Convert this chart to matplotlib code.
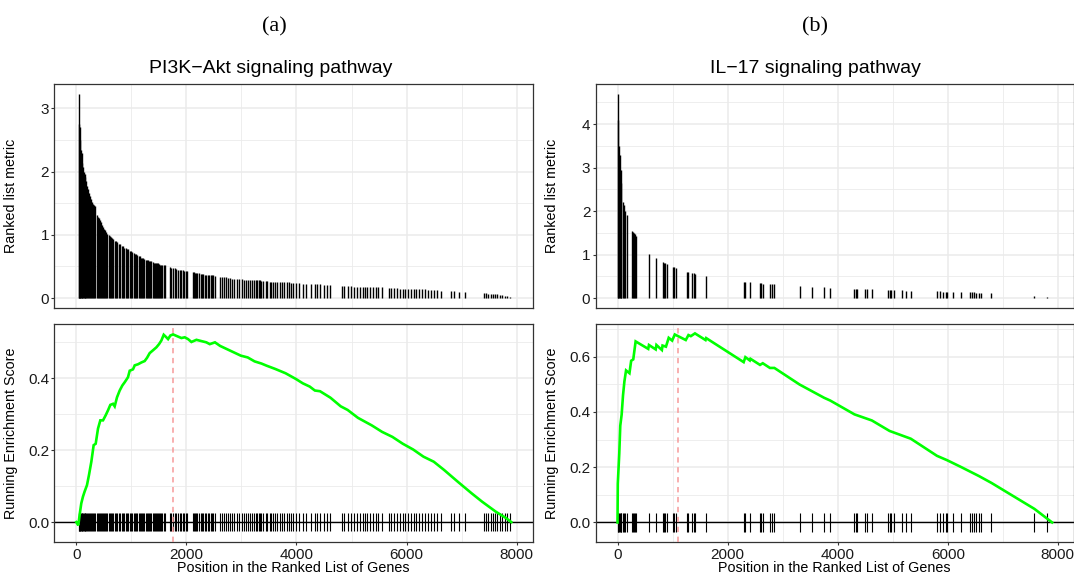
import matplotlib
matplotlib.use("Agg")
import matplotlib.pyplot as plt
from matplotlib.ticker import MultipleLocator, NullFormatter

plt.rcParams['font.family'] = ['Liberation Sans', 'DejaVu Sans']

# === DATA ===
panel_letters = ["(a)", "(b)"]
titles = ["PI3K\u2212Akt signaling pathway", "IL\u221217 signaling pathway"]

# (a) PI3K-Akt: positions of the gene-set hits in the ranked list and their metric
a_hit_pos = [
    40, 52, 64, 76, 88, 100, 112, 125, 138, 150, 163, 180, 195, 210, 228, 245, 262, 280, 300, 318,
    335, 378, 395, 410, 428, 446, 465, 485, 503, 525, 546, 565, 588, 609, 630, 650, 672, 695, 720, 747,
    770, 795, 828, 850, 872, 900, 922, 945, 970, 992, 1016, 1040, 1062, 1085, 1110, 1130, 1152, 1175,
    1195, 1215, 1235, 1258, 1280, 1300, 1320, 1340, 1360, 1385, 1405, 1425, 1445, 1466, 1486, 1505,
    1525, 1545, 1565, 1590, 1611,
    1705, 1722, 1760, 1790, 1815, 1850, 1880, 1905, 1935, 1960, 1990, 2018,
    2112, 2135, 2150, 2175, 2200, 2230, 2260, 2290, 2310, 2335, 2360, 2390, 2410, 2440, 2465, 2490, 2519,
    2613, 2650, 2690, 2720, 2760, 2800, 2830, 2863,
    2926, 2960, 3010, 3050, 3085, 3120, 3160, 3200, 3230, 3260, 3290, 3320, 3345, 3364,
    3400, 3440, 3470, 3510, 3540, 3580, 3610, 3650, 3700, 3740, 3780, 3820, 3860, 3900, 3940, 3990,
    4053, 4110, 4180, 4260, 4330, 4370, 4430, 4500, 4560, 4617,
    4835, 4870, 4929, 4990, 5054, 5100, 5150, 5200, 5240, 5290, 5340, 5390, 5440, 5490, 5555,
    5680, 5720, 5780, 5830, 5880, 5930, 5980, 6030, 6080, 6130, 6180, 6230, 6280, 6330, 6390,
    6440, 6500, 6560, 6620,
    6808, 6870, 6960, 7058,
    7400, 7440, 7480, 7530, 7570, 7610, 7650, 7700, 7740, 7780, 7830, 7872,
]
a_hit_metric = [
    3.22, 2.75, 2.70, 2.50, 2.35, 2.30, 2.13, 2.08, 2.00, 1.97, 1.92, 1.85, 1.78, 1.72, 1.67, 1.62,
    1.57, 1.52, 1.49, 1.47, 1.45, 1.32, 1.29, 1.27, 1.23, 1.20, 1.16, 1.13, 1.10, 1.07, 1.05, 1.02,
    1.00, 0.98, 0.96, 0.95, 0.93, 0.91, 0.90, 0.88, 0.86, 0.85, 0.83, 0.82, 0.80, 0.79, 0.78, 0.77,
    0.75, 0.74, 0.73, 0.72, 0.70, 0.69, 0.68, 0.67, 0.66, 0.64, 0.63, 0.63, 0.62, 0.61, 0.60, 0.60,
    0.59, 0.58, 0.58, 0.57, 0.56, 0.56, 0.55, 0.55, 0.55, 0.54, 0.53, 0.53, 0.52, 0.52, 0.52,
    0.49, 0.48, 0.47, 0.47, 0.46, 0.45, 0.45, 0.44, 0.44, 0.43, 0.43, 0.43,
    0.41, 0.41, 0.40, 0.40, 0.39, 0.39, 0.38, 0.38, 0.38, 0.37, 0.37, 0.37, 0.36, 0.36, 0.36, 0.36, 0.35,
    0.34, 0.34, 0.33, 0.33, 0.32, 0.32, 0.31, 0.31,
    0.30, 0.30, 0.30, 0.29, 0.29, 0.29, 0.29, 0.28, 0.28, 0.28, 0.28, 0.28, 0.28, 0.27,
    0.27, 0.27, 0.27, 0.26, 0.26, 0.26, 0.26, 0.26, 0.25, 0.25, 0.25, 0.25, 0.25, 0.24, 0.24, 0.24,
    0.24, 0.23, 0.23, 0.23, 0.22, 0.22, 0.22, 0.21, 0.21, 0.21,
    0.19, 0.19, 0.19, 0.19, 0.18, 0.18, 0.18, 0.18, 0.18, 0.18, 0.17, 0.17, 0.17, 0.17, 0.17,
    0.16, 0.16, 0.16, 0.16, 0.15, 0.15, 0.15, 0.15, 0.15, 0.15, 0.14, 0.14, 0.14, 0.14, 0.13,
    0.13, 0.13, 0.13, 0.12,
    0.11, 0.11, 0.10, 0.10,
    0.08, 0.08, 0.07, 0.07, 0.06, 0.06, 0.06, 0.05, 0.05, 0.04, 0.03, 0.02,
]
# running enrichment score, read at the turning points of the curve
a_es_pos = [0, 36, 60, 90, 121, 151, 194, 230, 273, 315, 352, 394, 436, 485, 533, 576, 618, 667,
            697, 739, 788, 836, 879, 939, 970, 1030, 1061, 1121, 1182, 1242, 1285, 1333, 1394,
            1454, 1503, 1545, 1588, 1636, 1667, 1709, 1758, 1848, 1909, 1970, 2030, 2091, 2182,
            2362, 2425, 2519, 2613, 2738, 2863, 2988, 3114, 3239, 3364, 3458, 3614, 3802, 3990,
            4115, 4240, 4334, 4428, 4617, 4804, 4929, 5117, 5368, 5555, 5743, 5931, 6119, 6307,
            6494, 6682, 6933, 7183, 7371, 7621, 7809, 7903]
a_es = [0.000, -0.009, 0.020, 0.052, 0.071, 0.085, 0.103, 0.131, 0.168, 0.214, 0.218, 0.260, 0.283,
        0.283, 0.297, 0.311, 0.326, 0.329, 0.322, 0.347, 0.366, 0.380, 0.389, 0.403, 0.421, 0.425,
        0.436, 0.439, 0.444, 0.448, 0.457, 0.470, 0.478, 0.486, 0.495, 0.505, 0.521, 0.514, 0.509,
        0.519, 0.522, 0.516, 0.512, 0.514, 0.509, 0.501, 0.507, 0.500, 0.495, 0.500, 0.490, 0.481,
        0.472, 0.463, 0.458, 0.447, 0.441, 0.435, 0.426, 0.414, 0.398, 0.386, 0.377, 0.366, 0.364,
        0.346, 0.322, 0.312, 0.290, 0.269, 0.251, 0.237, 0.218, 0.202, 0.182, 0.168, 0.145, 0.112,
        0.080, 0.057, 0.029, 0.011, 0.000]
a_peak = 1750

# (b) IL-17
b_hit_pos = [1, 8, 26, 44, 56, 69, 100, 118, 143, 174, 261, 280, 298, 323, 335, 564, 700, 818, 843,
             868, 893, 1010, 1035, 1066, 1264, 1289, 1357, 1382, 1407, 1605, 2298, 2323, 2416, 2589,
             2614, 2639, 2769, 2800, 2850, 3308, 3531, 3754, 3865, 4305, 4330, 4354, 4491, 4534,
             4621, 4918, 4943, 4974, 5030, 5160, 5247, 5328, 5804, 5860, 5921, 5971, 5990, 6095,
             6237, 6404, 6441, 6479, 6522, 6565, 6609, 6794, 7575, 7804]
b_hit_metric = [4.68, 4.10, 3.50, 3.30, 2.95, 2.65, 2.20, 2.15, 2.00, 1.90, 1.55, 1.52, 1.50, 1.47,
                1.43, 1.02, 0.92, 0.82, 0.81, 0.80, 0.79, 0.72, 0.71, 0.69, 0.61, 0.60, 0.58, 0.57,
                0.56, 0.51, 0.38, 0.37, 0.36, 0.35, 0.34, 0.33, 0.33, 0.32, 0.32, 0.28, 0.26, 0.25,
                0.24, 0.21, 0.21, 0.21, 0.20, 0.20, 0.20, 0.19, 0.19, 0.18, 0.18, 0.18, 0.17, 0.17,
                0.16, 0.16, 0.15, 0.15, 0.15, 0.14, 0.14, 0.13, 0.13, 0.13, 0.12, 0.12, 0.12, 0.11,
                0.05, 0.03]
b_es_pos = [0, 5, 32, 50, 75, 100, 125, 155, 217, 248, 286, 329, 558, 571, 694, 707, 806, 818, 880,
            930, 992, 1041, 1240, 1289, 1332, 1407, 1599, 1611, 2292, 2323, 2404, 2416, 2589, 2639,
            2769, 2850, 3308, 3531, 3754, 3865, 4305, 4621, 4943, 5328, 5804, 5990, 6237, 6565,
            6794, 7575, 7804, 7896]
b_es = [0.000, 0.140, 0.250, 0.350, 0.390, 0.460, 0.510, 0.550, 0.540, 0.585, 0.590, 0.655, 0.628,
        0.642, 0.626, 0.642, 0.624, 0.640, 0.636, 0.668, 0.658, 0.680, 0.660, 0.678, 0.674, 0.684,
        0.660, 0.667, 0.580, 0.598, 0.586, 0.592, 0.570, 0.576, 0.559, 0.559, 0.499, 0.475, 0.451,
        0.441, 0.391, 0.369, 0.331, 0.303, 0.241, 0.225, 0.201, 0.168, 0.143, 0.049, 0.014, 0.000]
b_peak = 1090

x_ticks = [0, 2000, 4000, 6000, 8000]

# === LAYOUT (pixels of the 1074x575 reference) ===
W, H = 1074, 575
fig = plt.figure(figsize=(W / 100, H / 100), dpi=100)
fig.patch.set_facecolor("white")

GRID = "#EBEBEB"
BORDER = "#333333"


def box(l, t, r, b):
    return [l / W, 1 - b / H, (r - l) / W, (b - t) / H]


def estilo(ax, ylim, ymaj, show_x):
    ax.set_xlim(-400, 8290)
    ax.set_ylim(*ylim)
    ax.set_xticks(x_ticks)
    ax.xaxis.set_minor_locator(MultipleLocator(1000))
    ax.yaxis.set_major_locator(MultipleLocator(ymaj))
    ax.yaxis.set_minor_locator(MultipleLocator(ymaj / 2))
    ax.grid(which="major", color=GRID, lw=1.1)
    ax.grid(which="minor", color=GRID, lw=0.6)
    ax.set_axisbelow(True)
    for s in ax.spines.values():
        s.set_color(BORDER)
        s.set_linewidth(0.9)
    ax.tick_params(which="minor", length=0)
    ax.tick_params(axis="y", which="major", length=2.2, width=0.8, color=BORDER,
                   labelsize=11, pad=1.5, labelcolor="#1A1A1A")
    if show_x:
        ax.tick_params(axis="x", which="major", length=2.2, width=0.8, color=BORDER,
                       labelsize=11, pad=2.0, labelcolor="#1A1A1A")
    else:
        ax.tick_params(axis="x", which="major", length=0)
        ax.xaxis.set_major_formatter(NullFormatter())


paneles = [
    (54.3, a_hit_pos, a_hit_metric, a_es_pos, a_es, a_peak, (-0.161, 3.381), 1,
     (-0.0545, 0.551), 0.2, 0.026),
    (595.5, b_hit_pos, b_hit_metric, b_es_pos, b_es, b_peak, (-0.234, 4.914), 1,
     (-0.0697, 0.718), 0.2, 0.033),
]

for i, (x0, pos, met, es_x, es_y, peak, ylim_top, ymaj_top, ylim_bot, ymaj_bot, rug) in enumerate(paneles):
    x1 = x0 + 478.3
    ax_top = fig.add_axes(box(x0, 84.3, x1, 308.3))
    ax_bot = fig.add_axes(box(x0, 324, x1, 541.7))

    # ranked list metric bars
    ax_top.vlines(pos, 0, met, color="black", lw=1.0)
    estilo(ax_top, ylim_top, ymaj_top, False)
    ax_top.set_ylabel("Ranked list metric", fontsize=10.3, color="black")
    ax_top.yaxis.set_label_coords(-36.5 / 478.3, 0.5)

    # running enrichment score
    ax_bot.vlines(pos, -rug, rug, color="black", lw=0.8, zorder=2)
    ax_bot.axhline(0, color="black", lw=1.0, zorder=2)
    ax_bot.axvline(peak, color="#F79A9A", lw=1.1, ls=(0, (3.5, 3)), zorder=3)
    ax_bot.plot(es_x, es_y, color="#00FF00", lw=1.9, zorder=4, solid_joinstyle="miter")
    estilo(ax_bot, ylim_bot, ymaj_bot, True)
    ax_bot.yaxis.set_major_formatter(matplotlib.ticker.FormatStrFormatter("%.1f"))
    ax_bot.set_ylabel("Running Enrichment Score", fontsize=10.3, color="black")
    ax_bot.yaxis.set_label_coords(-36.5 / 478.3, 0.5)
    ax_bot.set_xlabel("Position in the Ranked List of Genes", fontsize=10.3, color="black")
    ax_bot.xaxis.set_label_coords(0.5, -(568 - 541.7) / 217.7)
    ax_bot.xaxis.label.set_va("center")

    cx = 271 if i == 0 else 815
    fig.text(cx / W, 1 - 73 / H, titles[i], ha="center", va="baseline", fontsize=14)
    fig.text((274 if i == 0 else 815) / W, 1 - 31 / H, panel_letters[i], ha="center",
             va="baseline", fontsize=16, family=["Liberation Serif", "DejaVu Serif"])

fig.savefig("out.png", dpi=100, facecolor="white")
